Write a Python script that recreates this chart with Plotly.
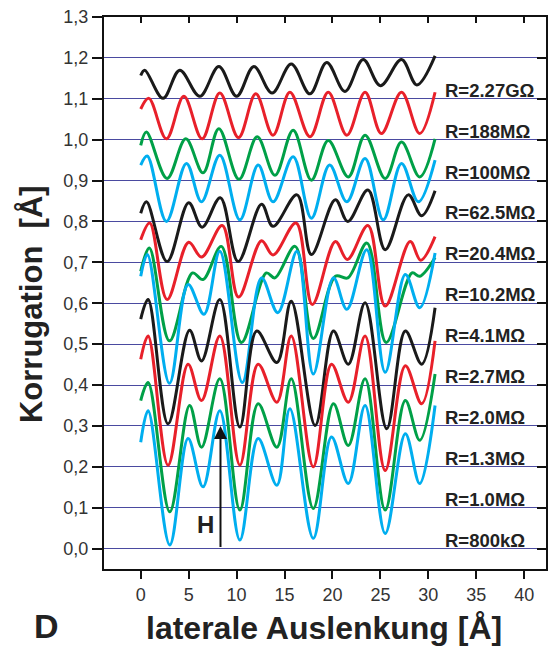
import plotly.graph_objects as go

# Lateral corrugation profiles for different tunnel resistances (Å)
x_2270M = [0, 0.42, 2.33, 4.07, 6.16, 8.15, 10.0, 11.8, 13.7, 15.7, 17.65, 19.4, 21.3, 23.2, 25.0, 27.2, 28.8, 30.7]
y_2270M = [1.157, 1.170, 1.101, 1.170, 1.106, 1.179, 1.106, 1.179, 1.114, 1.185, 1.112, 1.189, 1.118, 1.196, 1.132, 1.196, 1.134, 1.205]

x_188M = [0, 0.85, 2.68, 4.5, 6.4, 8.25, 10.2, 12.0, 13.8, 15.56, 17.65, 19.56, 21.5, 23.4, 25.1, 27.2, 29.1, 30.7]
y_188M = [1.075, 1.101, 1.002, 1.106, 1.002, 1.114, 1.005, 1.112, 1.011, 1.116, 1.007, 1.116, 1.011, 1.116, 1.015, 1.116, 1.015, 1.116]

x_100M = [0, 0.59, 2.75, 4.7, 6.5, 8.15, 10.25, 12.15, 14.0, 15.9, 17.8, 19.56, 21.65, 23.4, 25.5, 27.2, 29.1, 30.7]
y_100M = [0.986, 1.019, 0.905, 1.002, 0.919, 1.027, 0.903, 1.007, 0.913, 1.023, 0.901, 0.998, 0.909, 1.011, 0.905, 0.994, 0.909, 1.002]

x_62M5 = [0, 0.68, 2.68, 4.77, 6.34, 8.25, 10.34, 12.25, 13.8, 15.9, 17.8, 19.7, 21.5, 23.4, 25.3, 27.2, 28.96, 30.7]
y_62M5 = [0.938, 0.960, 0.800, 0.942, 0.848, 0.962, 0.804, 0.938, 0.848, 0.958, 0.808, 0.938, 0.848, 0.954, 0.804, 0.942, 0.848, 0.950]

x_20M4 = [0, 0.6, 2.75, 5.0, 6.4, 8.3, 10.16, 12.6, 13.8, 16.3, 17.8, 20.3, 21.6, 23.7, 25.5, 27.9, 29.3, 30.7]
y_20M4 = [0.820, 0.848, 0.702, 0.846, 0.786, 0.858, 0.702, 0.842, 0.788, 0.865, 0.719, 0.853, 0.800, 0.877, 0.731, 0.865, 0.814, 0.875]

x_10M2 = [0, 0.94, 2.75, 5.0, 6.35, 8.5, 10.2, 12.6, 13.8, 16.2, 17.9, 20.3, 21.55, 23.7, 25.5, 28.1, 29.2, 30.7]
y_10M2 = [0.755, 0.796, 0.609, 0.749, 0.713, 0.790, 0.615, 0.753, 0.718, 0.796, 0.597, 0.751, 0.707, 0.790, 0.593, 0.751, 0.705, 0.763]

x_4M1 = [0, 0.9, 3.0, 5.4, 6.5, 8.4, 10.5, 13.1, 14.0, 16.1, 18.0, 20.3, 21.6, 23.6, 25.6, 28.3, 29.1, 30.7]
y_4M1 = [0.678, 0.735, 0.508, 0.674, 0.658, 0.739, 0.504, 0.674, 0.662, 0.739, 0.514, 0.666, 0.662, 0.747, 0.504, 0.674, 0.666, 0.712]

x_2M7 = [0, 0.7, 3.0, 4.94, 6.6, 8.25, 10.6, 12.6, 14.3, 16.3, 18.0, 20.1, 21.5, 23.57, 25.5, 27.6, 29.1, 30.7]
y_2M7 = [0.666, 0.719, 0.404, 0.646, 0.573, 0.727, 0.406, 0.662, 0.577, 0.727, 0.427, 0.662, 0.585, 0.731, 0.431, 0.670, 0.589, 0.723]

x_2M0 = [0, 0.77, 2.85, 5.1, 6.34, 8.25, 10.34, 12.1, 14.2, 15.7, 18.2, 20.1, 21.65, 23.4, 25.66, 27.6, 29.3, 30.7]
y_2M0 = [0.561, 0.609, 0.305, 0.534, 0.459, 0.609, 0.297, 0.532, 0.455, 0.605, 0.301, 0.532, 0.451, 0.601, 0.293, 0.532, 0.451, 0.589]

x_1M3 = [0, 0.77, 2.85, 4.94, 6.34, 8.25, 10.34, 12.25, 14.2, 15.7, 18.0, 19.9, 21.65, 23.4, 25.5, 27.6, 29.3, 30.7]
y_1M3 = [0.463, 0.520, 0.204, 0.451, 0.362, 0.520, 0.204, 0.451, 0.358, 0.520, 0.200, 0.451, 0.358, 0.520, 0.191, 0.447, 0.354, 0.508]

x_1M0 = [0, 0.77, 3.03, 5.1, 6.34, 8.25, 10.34, 12.25, 14.2, 15.7, 18.0, 20.1, 21.65, 23.4, 25.5, 27.6, 29.1, 30.7]
y_1M0 = [0.362, 0.406, 0.090, 0.350, 0.248, 0.415, 0.094, 0.354, 0.248, 0.415, 0.098, 0.354, 0.252, 0.415, 0.094, 0.362, 0.265, 0.427]

x_800k = [0, 0.77, 3.03, 4.94, 6.5, 8.25, 10.34, 12.25, 14.2, 15.56, 18.0, 19.9, 21.65, 23.4, 25.5, 27.6, 29.1, 30.7]
y_800k = [0.260, 0.337, 0.009, 0.269, 0.151, 0.337, 0.021, 0.269, 0.155, 0.342, 0.025, 0.273, 0.159, 0.350, 0.037, 0.281, 0.159, 0.350]

resistance_labels = ["R=2.27GΩ", "R=188MΩ", "R=100MΩ", "R=62.5MΩ", "R=20.4MΩ", "R=10.2MΩ",
                     "R=4.1MΩ", "R=2.7MΩ", "R=2.0MΩ", "R=1.3MΩ", "R=1.0MΩ", "R=800kΩ"]
label_levels = [1.1, 1.0, 0.9, 0.8, 0.7, 0.6, 0.5, 0.4, 0.3, 0.2, 0.1, 0.0]

x_ticks = [0, 5, 10, 15, 20, 25, 30, 35, 40]
y_ticks = [0.0, 0.1, 0.2, 0.3, 0.4, 0.5, 0.6, 0.7, 0.8, 0.9, 1.0, 1.1, 1.2, 1.3]
y_ticktext = [f"{v:.1f}".replace(".", ",") for v in y_ticks]

# Height marker H
h_pos = 8.32
h_from, h_to = 0.0, 0.3

profiles = [
    (x_2270M, y_2270M), (x_188M, y_188M), (x_100M, y_100M), (x_62M5, y_62M5),
    (x_20M4, y_20M4), (x_10M2, y_10M2), (x_4M1, y_4M1), (x_2M7, y_2M7),
    (x_2M0, y_2M0), (x_1M3, y_1M3), (x_1M0, y_1M0), (x_800k, y_800k),
]
palette = ["#1a1a1a", "#e8202a", "#00a047", "#00aeef"]

FONT = "Liberation Sans, Arial, Helvetica, sans-serif"
X_RANGE = [-3.83, 42.27]
Y_RANGE = [-0.05, 1.3]

fig = go.Figure()
for i, ((xs, ys), name) in enumerate(zip(profiles, resistance_labels)):
    fig.add_trace(go.Scatter(
        x=xs, y=ys, mode="lines", name=name,
        line=dict(color=palette[i % 4], width=3, shape="spline", smoothing=1.0),
        showlegend=False, hoverinfo="skip",
    ))

# empty trace so the mirrored top/right axes get drawn
fig.add_trace(go.Scatter(x=[None], y=[None], xaxis="x2", yaxis="y2",
                         showlegend=False, hoverinfo="skip"))

annotations = []
for txt, lvl in zip(resistance_labels, label_levels):
    annotations.append(dict(
        x=31.5, y=lvl, xref="x", yref="y", text=f"<b>{txt}</b>",
        showarrow=False, xanchor="left", yanchor="bottom", yshift=-4,
        font=dict(family=FONT, size=18.5, color="#222222"),
    ))

# arrow marking the corrugation height
annotations.append(dict(
    x=h_pos, y=h_to, ax=h_pos, ay=h_from, xref="x", yref="y", axref="x", ayref="y",
    text="", showarrow=True, arrowhead=2, arrowsize=1.3, arrowwidth=2, arrowcolor="#111111",
))
annotations.append(dict(
    x=6.74, y=0.06, xref="x", yref="y", text="<b>H</b>", showarrow=False,
    xanchor="center", yanchor="middle", font=dict(family=FONT, size=24, color="#222222"),
))

# axis titles and panel letter
annotations.append(dict(
    x=(31 - 104) / 442, y=0.48, xref="paper", yref="paper", text="<b>Korrugation  [Å]</b>",
    textangle=-90, showarrow=False, xanchor="center", yanchor="middle",
    font=dict(family=FONT, size=31, color="#222222"),
))
annotations.append(dict(
    x=(324 - 104) / 442, y=(569 - 628) / 555, xref="paper", yref="paper",
    text="<b>laterale Auslenkung [Å]</b>", showarrow=False, xanchor="center", yanchor="middle",
    font=dict(family=FONT, size=32, color="#222222"),
))
annotations.append(dict(
    x=(47 - 104) / 442, y=(569 - 626) / 555, xref="paper", yref="paper",
    text="<b>D</b>", showarrow=False, xanchor="center", yanchor="middle",
    font=dict(family=FONT, size=34, color="#222222"),
))

fig.update_layout(
    width=553, height=661,
    margin=dict(l=104, r=7, t=14, b=92),
    paper_bgcolor="white", plot_bgcolor="white",
    font=dict(family=FONT),
    annotations=annotations,
    xaxis=dict(
        range=X_RANGE, tickvals=x_ticks, ticks="outside", ticklen=8, tickwidth=1.5,
        tickcolor="#111111", showline=True, linecolor="#111111", linewidth=2,
        showgrid=False, zeroline=False,
        tickfont=dict(family=FONT, size=18, color="#333333"),
    ),
    yaxis=dict(
        range=Y_RANGE, tickvals=y_ticks, ticktext=y_ticktext, ticks="outside", ticklen=10,
        tickwidth=1.5, tickcolor="#111111", showline=True, linecolor="#111111", linewidth=2,
        showgrid=True, gridcolor="#4a4aa0", gridwidth=1, zeroline=False,
        tickfont=dict(family=FONT, size=18, color="#333333"),
    ),
    xaxis2=dict(
        range=X_RANGE, overlaying="x", side="top", anchor="y", tickvals=x_ticks,
        ticks="inside", ticklen=6, tickwidth=1.5, tickcolor="#111111",
        showticklabels=False, showline=True, linecolor="#111111", linewidth=2,
        showgrid=False, zeroline=False,
    ),
    yaxis2=dict(
        range=Y_RANGE, overlaying="y", side="right", anchor="x", tickvals=y_ticks[:-1],
        ticks="inside", ticklen=9, tickwidth=1.5, tickcolor="#111111",
        showticklabels=False, showline=True, linecolor="#111111", linewidth=2,
        showgrid=False, zeroline=False,
    ),
)

fig.write_html("out.html")
